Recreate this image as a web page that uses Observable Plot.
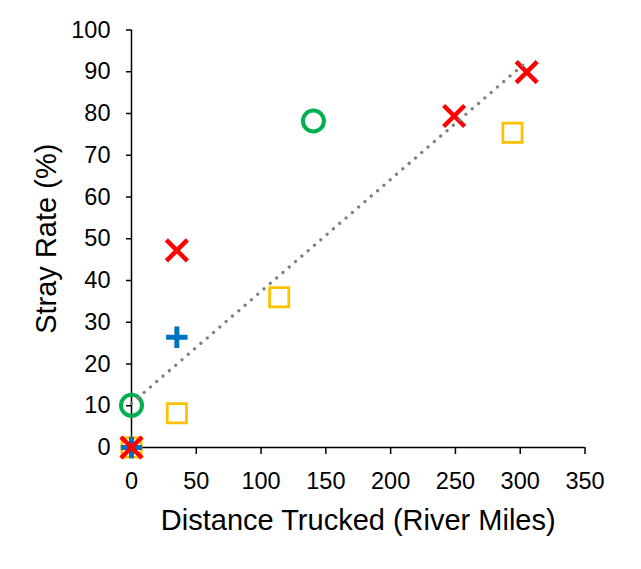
<!DOCTYPE html>
<html>
<head>
<meta charset="utf-8">
<script src="https://cdn.jsdelivr.net/npm/d3@7"></script>
<script src="https://cdn.jsdelivr.net/npm/@observablehq/plot@0.6"></script>
<style>
  html, body { margin: 0; padding: 0; background: #fff; }
</style>
</head>
<body>
<div id="chart"></div>
<script>
// Series (x = distance trucked, y = stray rate %)
const redX       = [0, 35, 249, 305];
const redY       = [0, 47.2, 79.4, 89.9];
const greenX     = [0, 140.4];
const greenY     = [10.1, 78.2];
const yellowX    = [0, 35, 114, 294];
const yellowY    = [0, 8.2, 36, 75.4];
const blueX      = [0, 35];
const blueY      = [0, 26.4];

const xTicks = [0, 50, 100, 150, 200, 250, 300, 350];
const yTicks = [0, 10, 20, 30, 40, 50, 60, 70, 80, 90, 100];
const xTitle = "Distance Trucked (River Miles)";
const yTitle = "Stray Rate (%)";

const toRows = (xs, ys) => xs.map((x, i) => ({x, y: ys[i]}));
const red = toRows(redX, redY);
const green = toRows(greenX, greenY);
const yellow = toRows(yellowX, yellowY);
const blue = toRows(blueX, blueY);
const all = [...red, ...green, ...yellow, ...blue];

const chart = Plot.plot({
  width: 641,
  height: 569,
  marginLeft: 131,
  marginRight: 56.5,
  marginTop: 29.5,
  marginBottom: 122,
  style: {fontFamily: "'Liberation Sans', Arial, sans-serif", fontSize: "23.5px", background: "#fff", color: "#000"},
  x: {domain: [0, 350]},
  y: {domain: [0, 100]},
  marks: [
    Plot.axisX({ticks: xTicks, tickSize: 7, tickPadding: 18, strokeWidth: 1.5, fontSize: 23.5, label: null, tickFormat: d => String(d)}),
    Plot.axisY({ticks: yTicks, tickSize: 5, tickPadding: 16, strokeWidth: 1.5, fontSize: 23.5, label: null, tickFormat: d => String(d)}),
    Plot.ruleY([0], {stroke: "#000", strokeWidth: 1.5}),
    Plot.ruleX([0], {stroke: "#000", strokeWidth: 1.5}),
    Plot.dot(yellow, {x: "x", y: "y", symbol: "square", r: 10.83, stroke: "#FFC000", fill: "none", strokeWidth: 2.75}),
    Plot.dot(blue, {x: "x", y: "y", symbol: "plus", r: 6.94, stroke: "#0070C0", fill: "none", strokeWidth: 5}),
    Plot.dot(green, {x: "x", y: "y", symbol: "circle", r: 10.5, stroke: "#00B050", fill: "none", strokeWidth: 4}),
    Plot.dot(red, {x: "x", y: "y", symbol: "times", r: 9.6, stroke: "#FF0000", fill: "none", strokeWidth: 4.5}),
    Plot.linearRegressionY(all, {x: "x", y: "y", ci: 0, stroke: "#808080", strokeWidth: 3.3, strokeDasharray: "0.01,8.33", strokeLinecap: "round"}),
    Plot.text([xTitle], {frameAnchor: "bottom", lineAnchor: "middle", textAnchor: "middle", dy: 73.4, fontSize: 29, fill: "#000"}),
    Plot.text([yTitle], {frameAnchor: "left", lineAnchor: "middle", textAnchor: "middle", rotate: -90, dx: -84.6, fontSize: 29, fill: "#000"})
  ]
});
document.getElementById("chart").appendChild(chart);
</script>
</body>
</html>
